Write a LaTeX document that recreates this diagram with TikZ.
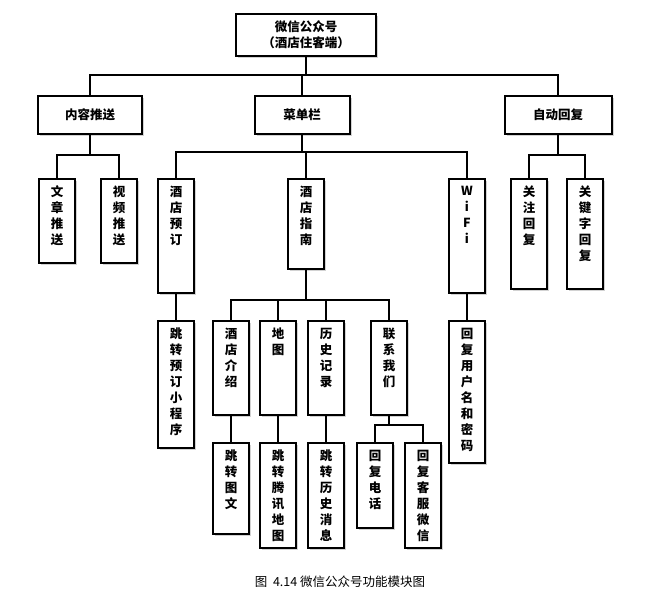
\documentclass[tikz,border=0pt]{standalone}
\usepackage{fontspec}
\newfontfamily\cjk{Noto Sans CJK SC}
\usetikzlibrary{shadows}

\tikzset{
    box/.style={draw=black, line width=2pt, fill=white, inner sep=0pt,
        font=\cjk\bfseries\fontsize{12.5}{16}\selectfont,
        drop shadow={shadow xshift=2pt, shadow yshift=-2pt, fill=black!35}},
    hbox/.style={box, minimum height=38pt},
    link/.style={line width=1.8pt}
}
% vertical box: name, x, top y, height, text
\newcommand{\colbox}[5]{%
    \node[box, anchor=north] (#1) at (#2,#3)
        {\parbox[c][#4pt][t]{36pt}{\centering\vspace*{7pt}#5}};}

\begin{document}
\begin{tikzpicture}[x=1pt, y=-1pt]
        \useasboundingbox (0,0) rectangle (672,608);

        % top levels
        \node[box, minimum width=140pt, minimum height=42pt,
            align=center, font=\cjk\bfseries\fontsize{12.5}{16}\selectfont] (root) at (306,35)
            {微信公众号\\（酒店住客端）};
        \node[hbox, minimum width=104pt] (push) at (90,115) {内容推送};
        \node[hbox, minimum width=95pt] (menu) at (302,115) {菜单栏};
        \node[hbox, minimum width=107pt] (auto) at (558,115) {自动回复};

        % second level
        \colbox{art}{57}{178}{84}{文\\章\\推\\送}
        \colbox{video}{119}{178}{84}{视\\频\\推\\送}
        \colbox{book}{176}{178}{114}{酒\\店\\预\\订}
        \colbox{guide}{306}{178}{90}{酒\\店\\指\\南}
        \colbox{wifi}{467}{178}{114}{W\\i\\F\\i}
        \colbox{follow}{529}{178}{110}{关\\注\\回\\复}
        \colbox{keyword}{585}{178}{110}{关\\键\\字\\回\\复}

        % third level
        \colbox{prog}{176}{320}{127}{跳\\转\\预\\订\\小\\程\\序}
        \colbox{pwd}{467}{320}{142}{回\\复\\用\\户\\名\\和\\密\\码}
        \colbox{intro}{231}{320}{94}{酒\\店\\介\\绍}
        \colbox{map}{278}{320}{94}{地\\图}
        \colbox{hist}{326}{320}{94}{历\\史\\记\\录}
        \colbox{contact}{389}{320}{94}{联\\系\\我\\们}

        % fourth level
        \colbox{pic}{231}{442}{91}{跳\\转\\图\\文}
        \colbox{qqmap}{278}{442}{105}{跳\\转\\腾\\讯\\地\\图}
        \colbox{msg}{326}{442}{105}{跳\\转\\历\\史\\消\\息}
        \colbox{tel}{375}{442}{85}{回\\复\\电\\话}
        \colbox{wechat}{423}{442}{105}{回\\复\\客\\服\\微\\信}

        % connectors
        \foreach \c in {push,menu,auto}
            \draw[link] (root.south) |- (306,75) -| (\c.north);
        \foreach \c in {art,video}
            \draw[link] (push.south) |- (90,155) -| (\c.north);
        \foreach \c in {book,guide,wifi}
            \draw[link] (menu.south) |- (302,152) -| (\c.north);
        \foreach \c in {follow,keyword}
            \draw[link] (auto.south) |- (558,155) -| (\c.north);
        \foreach \c in {intro,map,hist,contact}
            \draw[link] (guide.south) |- (306,300) -| (\c.north);
        \foreach \c in {tel,wechat}
            \draw[link] (contact.south) |- (389,425) -| (\c.north);
        \draw[link] (book) -- (prog);
        \draw[link] (wifi) -- (pwd);
        \draw[link] (intro) -- (pic);
        \draw[link] (map) -- (qqmap);
        \draw[link] (hist) -- (msg);

        \node[font=\cjk\fontsize{12.5}{15}\selectfont] (cap) at (340,582)
            {图\ \ 4.14 微信公众号功能模块图};
    \end{tikzpicture}
\end{document}
